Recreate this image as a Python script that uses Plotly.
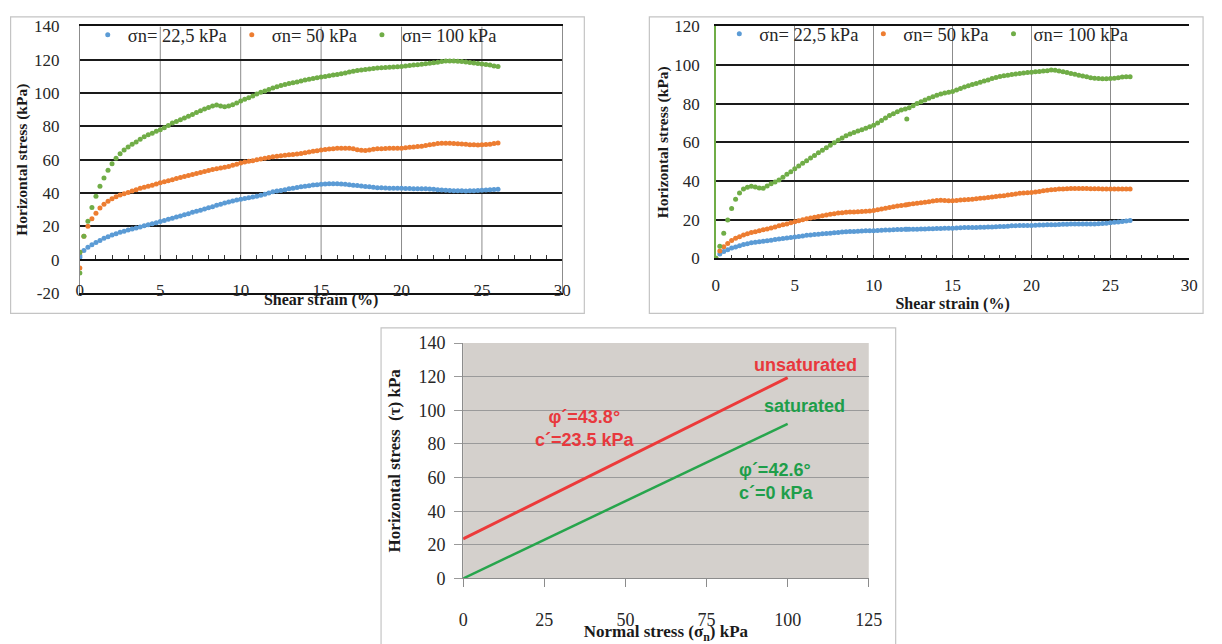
import plotly.graph_objects as go

W, H = 1222, 644

# ---------------- data: top-left test (strain %, horizontal stress kPa) ----------------
STRAIN_A = [0, 0,
    0.25, 0.5, 0.75, 1.0,
    1.25, 1.5, 1.75, 2.0,
    2.25, 2.5, 2.75, 3.0,
    3.25, 3.5, 3.75, 4.0,
    4.25, 4.5, 4.75, 5.0,
    5.25, 5.5, 5.75, 6.0,
    6.25, 6.5, 6.75, 7.0,
    7.25, 7.5, 7.75, 8.0,
    8.25, 8.5, 8.75, 9.0,
    9.25, 9.5, 9.75, 10.0,
    10.25, 10.5, 10.75, 11.0,
    11.25, 11.5, 11.75, 12.0,
    12.25, 12.5, 12.75, 13.0,
    13.25, 13.5, 13.75, 14.0,
    14.25, 14.5, 14.75, 15.0,
    15.25, 15.5, 15.75, 16.0,
    16.25, 16.5, 16.75, 17.0,
    17.25, 17.5, 17.75, 18.0,
    18.25, 18.5, 18.75, 19.0,
    19.25, 19.5, 19.75, 20.0,
    20.25, 20.5, 20.75, 21.0,
    21.25, 21.5, 21.75, 22.0,
    22.25, 22.5, 22.75, 23.0,
    23.25, 23.5, 23.75, 24.0,
    24.25, 24.5, 24.75, 25.0,
    25.25, 25.5, 25.75, 26.0]

BLUE_A = [1.5, 2.5,
    5.5, 7.5, 9.0, 10.3,
    11.5, 12.8, 13.8, 14.8,
    15.6, 16.4, 17.0, 17.8,
    18.4, 19.0, 19.6, 20.3,
    20.9, 21.5, 22.2, 22.9,
    23.5, 24.2, 24.9, 25.6,
    26.2, 26.9, 27.6, 28.4,
    29.0, 29.7, 30.4, 31.1,
    31.8, 32.6, 33.3, 34.0,
    34.6, 35.2, 35.8, 36.3,
    36.7, 37.2, 37.6, 38.1,
    38.6, 39.3, 40.0, 40.7,
    41.2, 41.5, 42.0, 42.5,
    42.9, 43.3, 43.7, 44.1,
    44.4, 44.8, 45.0, 45.2,
    45.4, 45.6, 45.6, 45.5,
    45.4, 45.2, 45.0, 44.7,
    44.5, 44.2, 43.9, 43.7,
    43.4, 43.2, 43.1, 43.0,
    42.9, 42.9, 42.8, 42.8,
    42.7, 42.7, 42.6, 42.6,
    42.6, 42.5, 42.4, 42.3,
    42.0, 41.8, 41.6, 41.5,
    41.4, 41.3, 41.3, 41.2,
    41.3, 41.3, 41.5, 41.6,
    41.8, 41.9, 42.1, 42.3]

ORANGE_A = [-5.0, 4.5,
    14.0, 20.0, 24.5, 27.8,
    31.0, 33.2, 35.0, 36.5,
    37.8, 38.8, 39.6, 40.3,
    41.2, 42.0, 42.8, 43.5,
    44.0, 44.7, 45.4, 46.1,
    46.8, 47.4, 48.0, 48.7,
    49.3, 49.9, 50.5, 51.1,
    51.7, 52.3, 52.9, 53.5,
    54.1, 54.6, 55.0, 55.4,
    55.9, 56.6, 57.3, 58.0,
    58.6, 59.0, 59.4, 59.9,
    60.4, 60.9, 61.3, 61.7,
    62.0, 62.3, 62.6, 62.9,
    63.1, 63.4, 63.7, 64.2,
    64.6, 65.0, 65.4, 65.8,
    66.1, 66.4, 66.6, 66.8,
    66.9, 66.9, 66.8, 66.5,
    66.0, 65.6, 65.5, 65.8,
    66.2, 66.5, 66.6, 66.7,
    66.8, 66.8, 66.9, 66.9,
    67.1, 67.4, 67.6, 67.9,
    68.1, 68.5, 68.9, 69.3,
    69.7, 69.9, 69.9, 69.8,
    69.7, 69.6, 69.4, 69.2,
    69.0, 68.9, 68.8, 68.9,
    69.1, 69.3, 69.7, 70.0]

GREEN_A = [-8.0, 4.5,
    14.0, 23.0, 31.3, 38.0,
    44.0, 49.0, 53.6, 57.6,
    60.8, 63.5, 65.8, 67.6,
    69.2, 70.6, 72.2, 73.8,
    74.9, 75.9, 77.0, 78.0,
    79.2, 80.6, 82.0, 83.0,
    84.0, 85.1, 86.1, 87.2,
    88.3, 89.4, 90.4, 91.3,
    92.2, 92.8, 92.3, 91.8,
    92.2, 93.0, 94.0, 95.2,
    96.3, 97.2, 98.2, 99.4,
    100.5, 101.3, 102.2, 103.1,
    103.8, 104.5, 105.1, 105.7,
    106.2, 106.7, 107.2, 107.8,
    108.3, 108.8, 109.2, 109.6,
    110.0, 110.4, 110.8, 111.2,
    111.6, 112.1, 112.6, 113.1,
    113.5, 113.9, 114.2, 114.5,
    114.8, 115.0, 115.2, 115.4,
    115.5, 115.6, 115.8, 116.0,
    116.2, 116.5, 116.8, 117.0,
    117.3, 117.6, 117.9, 118.2,
    118.5, 118.9, 119.2, 119.3,
    119.3, 119.1, 118.9, 118.6,
    118.3, 118.0, 117.7, 117.5,
    117.2, 116.9, 116.3, 115.9]

# ---------------- data: top-right test ----------------
STRAIN_B = [0,
    0.25, 0.5, 0.75, 1.0,
    1.25, 1.5, 1.75, 2.0,
    2.25, 2.5, 2.75, 3.0,
    3.25, 3.5, 3.75, 4.0,
    4.25, 4.5, 4.75, 5.0,
    5.25, 5.5, 5.75, 6.0,
    6.25, 6.5, 6.75, 7.0,
    7.25, 7.5, 7.75, 8.0,
    8.25, 8.5, 8.75, 9.0,
    9.25, 9.5, 9.75, 10.0,
    10.25, 10.5, 10.75, 11.0,
    11.25, 11.5, 11.75, 12.0,
    12.1,
    12.25, 12.5, 12.75, 13.0,
    13.25, 13.5, 13.75, 14.0,
    14.25, 14.5, 14.75, 15.0,
    15.25, 15.5, 15.75, 16.0,
    16.25, 16.5, 16.75, 17.0,
    17.25, 17.5, 17.75, 18.0,
    18.25, 18.5, 18.75, 19.0,
    19.25, 19.5, 19.75, 20.0,
    20.25, 20.5, 20.75, 21.0,
    21.25, 21.5, 21.75, 22.0,
    22.25, 22.5, 22.75, 23.0,
    23.25, 23.5, 23.75, 24.0,
    24.25, 24.5, 24.75, 25.0,
    25.25, 25.5, 25.75, 26.0,
    26.25]

BLUE_B = [0.0,
    2.2, 3.5, 4.5, 5.3,
    5.9, 6.5, 7.1, 7.6,
    8.0, 8.3, 8.6, 8.8,
    9.1, 9.4, 9.7, 10.0,
    10.2, 10.5, 10.8, 11.0,
    11.3, 11.6, 11.9, 12.1,
    12.3, 12.5, 12.7, 12.9,
    13.0, 13.2, 13.4, 13.6,
    13.8, 13.9, 13.9, 14.0,
    14.1, 14.2, 14.2, 14.3,
    14.4, 14.5, 14.6, 14.7,
    14.8, 14.9, 14.9, 15.0,
    15.0,
    15.0, 15.1, 15.1, 15.2,
    15.2, 15.3, 15.3, 15.4,
    15.4, 15.5, 15.5, 15.6,
    15.7, 15.8, 15.9, 15.9,
    16.0, 16.0, 16.1, 16.1,
    16.2, 16.2, 16.3, 16.4,
    16.5, 16.6, 16.8, 16.9,
    17.0, 17.0, 17.0, 17.0,
    17.1, 17.2, 17.2, 17.3,
    17.4, 17.4, 17.5, 17.6,
    17.6, 17.7, 17.7, 17.8,
    17.8, 17.8, 17.8, 17.8,
    17.9, 18.0, 18.2, 18.4,
    18.6, 18.8, 19.1, 19.3,
    19.5]

ORANGE_B = [0.0,
    3.8, 6.0, 7.7, 9.2,
    10.4, 11.2, 12.0, 12.7,
    13.3, 13.8, 14.3, 14.8,
    15.2, 15.7, 16.2, 16.8,
    17.3, 17.8, 18.4, 18.9,
    19.4, 19.9, 20.4, 20.8,
    21.2, 21.6, 22.0, 22.4,
    22.8, 23.1, 23.4, 23.6,
    23.8, 23.9, 24.0, 24.1,
    24.2, 24.3, 24.5, 24.7,
    25.1, 25.5, 25.9, 26.3,
    26.7, 27.0, 27.3, 27.6,
    27.7,
    27.9, 28.2, 28.5, 28.7,
    29.0, 29.3, 29.6, 29.9,
    30.0, 29.9, 29.8, 29.8,
    29.9, 30.1, 30.3, 30.4,
    30.6, 30.8, 31.0, 31.2,
    31.5, 31.7, 31.9, 32.2,
    32.4, 32.7, 33.0, 33.3,
    33.6, 33.8, 33.9, 34.0,
    34.3, 34.6, 34.9, 35.2,
    35.4, 35.6, 35.8, 35.9,
    36.0, 36.1, 36.1, 36.1,
    36.1, 36.1, 36.0, 36.0,
    36.0, 35.9, 35.9, 35.8,
    35.8, 35.8, 35.8, 35.8,
    35.9]

GREEN_B = [0.0,
    6.3, 13.0, 19.8, 25.8,
    30.5, 33.8, 35.8, 36.8,
    37.2, 36.9, 36.4, 36.2,
    37.4, 38.5, 39.5, 40.5,
    41.9, 43.4, 44.8, 46.3,
    47.7, 49.1, 50.5, 51.9,
    53.2, 54.6, 55.9, 57.2,
    58.5, 59.8, 61.0, 62.2,
    63.4, 64.3, 65.1, 65.8,
    66.5, 67.3, 68.0, 68.8,
    70.0, 71.3, 72.5, 73.8,
    74.8, 75.8, 76.7, 77.2,
    72.0,
    77.8, 78.9, 80.0, 81.0,
    81.8, 82.7, 83.5, 84.3,
    84.9, 85.4, 85.8, 86.2,
    87.0, 87.8, 88.6, 89.2,
    89.8, 90.4, 91.0, 91.6,
    92.2, 92.9, 93.5, 94.0,
    94.4, 94.7, 95.0, 95.3,
    95.5, 95.8, 96.0, 96.2,
    96.4, 96.6, 96.8, 97.0,
    97.3, 97.2, 96.8, 96.4,
    96.0, 95.6, 95.1, 94.7,
    94.2, 93.8, 93.4, 93.1,
    92.9, 92.8, 92.8, 92.9,
    93.1, 93.4, 93.7, 93.8,
    93.8]

SERIES_NAMES = ["σn= 22,5 kPa", "σn= 50 kPa", "σn= 100 kPa"]
SERIES_COLORS = ["#5B9BD5", "#ED7D31", "#70AD47"]

STRAIN_GRID = [5, 10, 15, 20, 25]
STRESS_TICKS_A = [-20, 0, 20, 40, 60, 80, 100, 120, 140]

# ---------------- data: bottom failure envelopes ----------------
NORMAL_STRESS = [0, 100]
TAU_UNSAT = [23.5, 119.5]
TAU_SAT = [0.0, 92.0]

# ---------------- helpers ----------------
def px(x):
    return x / W


def py(y):
    return 1 - y / H


SERIF = "Liberation Serif"
SANS = "Liberation Sans"
TICKFONT = dict(family=SERIF, size=17, color="#262626")
TITLEFONT = dict(family=SERIF, size=16, color="#1a1a1a", weight="bold")
LEGFONT = dict(family=SERIF, size=18.5, color="#262626")

fig = go.Figure()

for name, color, vals in zip(SERIES_NAMES, SERIES_COLORS, [BLUE_A, ORANGE_A, GREEN_A]):
    fig.add_trace(go.Scatter(x=STRAIN_A, y=vals, mode="markers", name=name,
                             marker=dict(size=5, color=color),
                             xaxis="x", yaxis="y", legend="legend"))

for name, color, vals in zip(SERIES_NAMES, SERIES_COLORS, [BLUE_B, ORANGE_B, GREEN_B]):
    fig.add_trace(go.Scatter(x=STRAIN_B, y=vals, mode="markers", name=name,
                             marker=dict(size=5, color=color),
                             xaxis="x2", yaxis="y2", legend="legend2"))

fig.add_trace(go.Scatter(x=NORMAL_STRESS, y=TAU_UNSAT, mode="lines",
                         line=dict(color="#EC3A3A", width=3), showlegend=False,
                         xaxis="x3", yaxis="y3"))
fig.add_trace(go.Scatter(x=NORMAL_STRESS, y=TAU_SAT, mode="lines",
                         line=dict(color="#27A54C", width=2.5), showlegend=False,
                         xaxis="x3", yaxis="y3"))

# placeholder traces so the overlay axes are drawn
fig.add_trace(go.Scatter(x=[None], y=[None], xaxis="x4", yaxis="y",
                         showlegend=False, hoverinfo="skip"))
fig.add_trace(go.Scatter(x=[None], y=[None], xaxis="x5", yaxis="y3",
                         showlegend=False, hoverinfo="skip"))

# domains (pixels)
TL_X = [px(77), px(566.7)]
TL_Y = [py(292.1), py(16.9)]
TR_X = [px(722.5), px(1203)]
TR_Y = [py(256.3), py(16.7)]
B_X = [px(466), px(877.7)]
B_Y = [py(586.7), py(343.8)]

shapes = []
# chart frames
for x0, x1, y0, y1 in [(6.7, 589, 7, 313), (655, 1217, 7, 313), (382.7, 905, 328, 660)]:
    shapes.append(dict(type="rect", xref="paper", yref="paper",
                       x0=px(x0), x1=px(x1), y0=py(y1), y1=py(y0),
                       line=dict(color="#c4c4c4", width=1.2), fillcolor="rgba(0,0,0,0)"))
# top-left vertical gridlines above zero
for gx in STRAIN_GRID:
    shapes.append(dict(type="line", xref="x", yref="y", x0=gx, x1=gx, y0=0, y1=140,
                       line=dict(color="#8c8c8c", width=1), layer="below"))
# bottom plot area background
shapes.append(dict(type="rect", xref="x3 domain", yref="y3 domain", x0=0, x1=1, y0=0, y1=1,
                   fillcolor="#D4D0CC", line=dict(width=0), layer="below"))

ANN_RED = "#E8383D"
ANN_GREEN = "#1E9E4A"
ANNFONT = dict(family=SANS, size=18, weight="bold")
annotations = [
    dict(text="unsaturated", x=105.6, y=126.8, xref="x3", yref="y3", showarrow=False,
         font=dict(ANNFONT, color=ANN_RED)),
    dict(text="saturated", x=105.3, y=102.8, xref="x3", yref="y3", showarrow=False,
         font=dict(ANNFONT, color=ANN_GREEN)),
    dict(text="φ´=43.8°<br>c´=23.5 kPa", x=37.6, y=89.5, xref="x3", yref="y3", showarrow=False,
         align="center", font=dict(ANNFONT, color=ANN_RED)),
    dict(text="φ´=42.6°<br>c´=0 kPa", x=84.4, y=57.8, xref="x3", yref="y3", showarrow=False,
         xanchor="left", align="left", font=dict(ANNFONT, color=ANN_GREEN)),
]

fig.update_layout(
    width=W, height=H, autosize=False,
    margin=dict(l=0, r=0, t=0, b=0),
    paper_bgcolor="white", plot_bgcolor="white",
    shapes=shapes, annotations=annotations,
    legend=dict(orientation="h", x=px(85), y=py(26), xanchor="left", yanchor="middle",
                bgcolor="rgba(0,0,0,0)", font=LEGFONT, itemclick=False),
    legend2=dict(orientation="h", x=px(726), y=py(25), xanchor="left", yanchor="middle",
                 bgcolor="rgba(0,0,0,0)", font=LEGFONT, itemclick=False),
    # ---------- top-left ----------
    xaxis=dict(domain=TL_X, anchor="y", range=[0, 30], dtick=5, tick0=0,
               showgrid=False, zeroline=False, showline=True, linecolor="#111111",
               linewidth=1.5, mirror=True, ticks="",
               ticklabelposition="inside", ticklabeloverflow="allow", ticklabelstandoff=-6,
               tickfont=TICKFONT),
    yaxis=dict(domain=TL_Y, anchor="x", range=[-20, 140],
               tickvals=STRESS_TICKS_A, ticktext=[str(v) for v in STRESS_TICKS_A],
               showgrid=True, gridcolor="#1a1a1a", gridwidth=1.5, zeroline=False,
               showline=True, linecolor="#8c8c8c", mirror=True, ticks="",
               ticklabelstandoff=16, tickfont=TICKFONT,
               title=dict(text="Horizontal stress (kPa)",
                          font=dict(TITLEFONT, size=15.5), standoff=2)),
    xaxis4=dict(overlaying="x", anchor="free", position=py(257.7), range=[0, 30],
                showgrid=False, zeroline=False, showline=True, linecolor="#111111",
                linewidth=1.5, showticklabels=False, ticks="inside", ticklen=4,
                tickcolor="#333333", dtick=1, tick0=0,
                title=dict(text="Shear strain (%)", font=TITLEFONT, standoff=33)),
    # ---------- top-right ----------
    xaxis2=dict(domain=TR_X, anchor="y2", range=[0, 30], dtick=5, tick0=0,
                showgrid=True, gridcolor="#8c8c8c", gridwidth=1, zeroline=False,
                showline=True, linecolor="#111111", linewidth=1.5, mirror=True,
                ticks="inside", ticklen=4, tickcolor="#333333",
                minor=dict(dtick=1, ticks="inside", ticklen=4, tickcolor="#333333", showgrid=False),
                ticklabelstandoff=11, tickfont=TICKFONT,
                title=dict(text="Shear strain (%)", font=TITLEFONT, standoff=0)),
    yaxis2=dict(domain=TR_Y, anchor="x2", range=[0, 120], dtick=20, tick0=0,
                showgrid=True, gridcolor="#1a1a1a", gridwidth=1.5, zeroline=False,
                showline=True, linecolor="#70AD47", linewidth=1.5, mirror=False, ticks="",
                ticklabelstandoff=11, tickfont=TICKFONT,
                title=dict(text="Horizontal stress (kPa)",
                           font=dict(TITLEFONT, size=15.5), standoff=2)),
    # ---------- bottom ----------
    xaxis3=dict(domain=B_X, anchor="y3", range=[0, 125], dtick=25, tick0=0,
                showgrid=False, zeroline=False, showline=True, linecolor="#8c8c8c",
                ticks="outside", ticklen=8, tickcolor="#8c8c8c",
                ticklabelstandoff=17, tickfont=dict(TICKFONT, size=18)),
    xaxis5=dict(overlaying="x3", anchor="y3", side="bottom", range=[0, 125],
                showgrid=False, zeroline=False, showline=False, showticklabels=False,
                ticks="",
                title=dict(text="Normal stress (σ<sub>n</sub>) kPa", font=dict(TITLEFONT, size=17),
                           standoff=48)),
    yaxis3=dict(domain=B_Y, anchor="x3", range=[0, 140], dtick=20, tick0=0,
                showgrid=True, gridcolor="#9a9a9a", gridwidth=1, zeroline=False,
                showline=True, linecolor="#8c8c8c", ticks="outside", ticklen=8,
                tickcolor="#9a9a9a", ticklabelstandoff=5, tickfont=dict(TICKFONT, size=18),
                title=dict(text="Horizontal stress  (τ) kPa", font=dict(TITLEFONT, size=17),
                           standoff=13)),
)

fig.write_html("out.html", config={"displayModeBar": False},
               post_script="document.body.style.margin='0';")
